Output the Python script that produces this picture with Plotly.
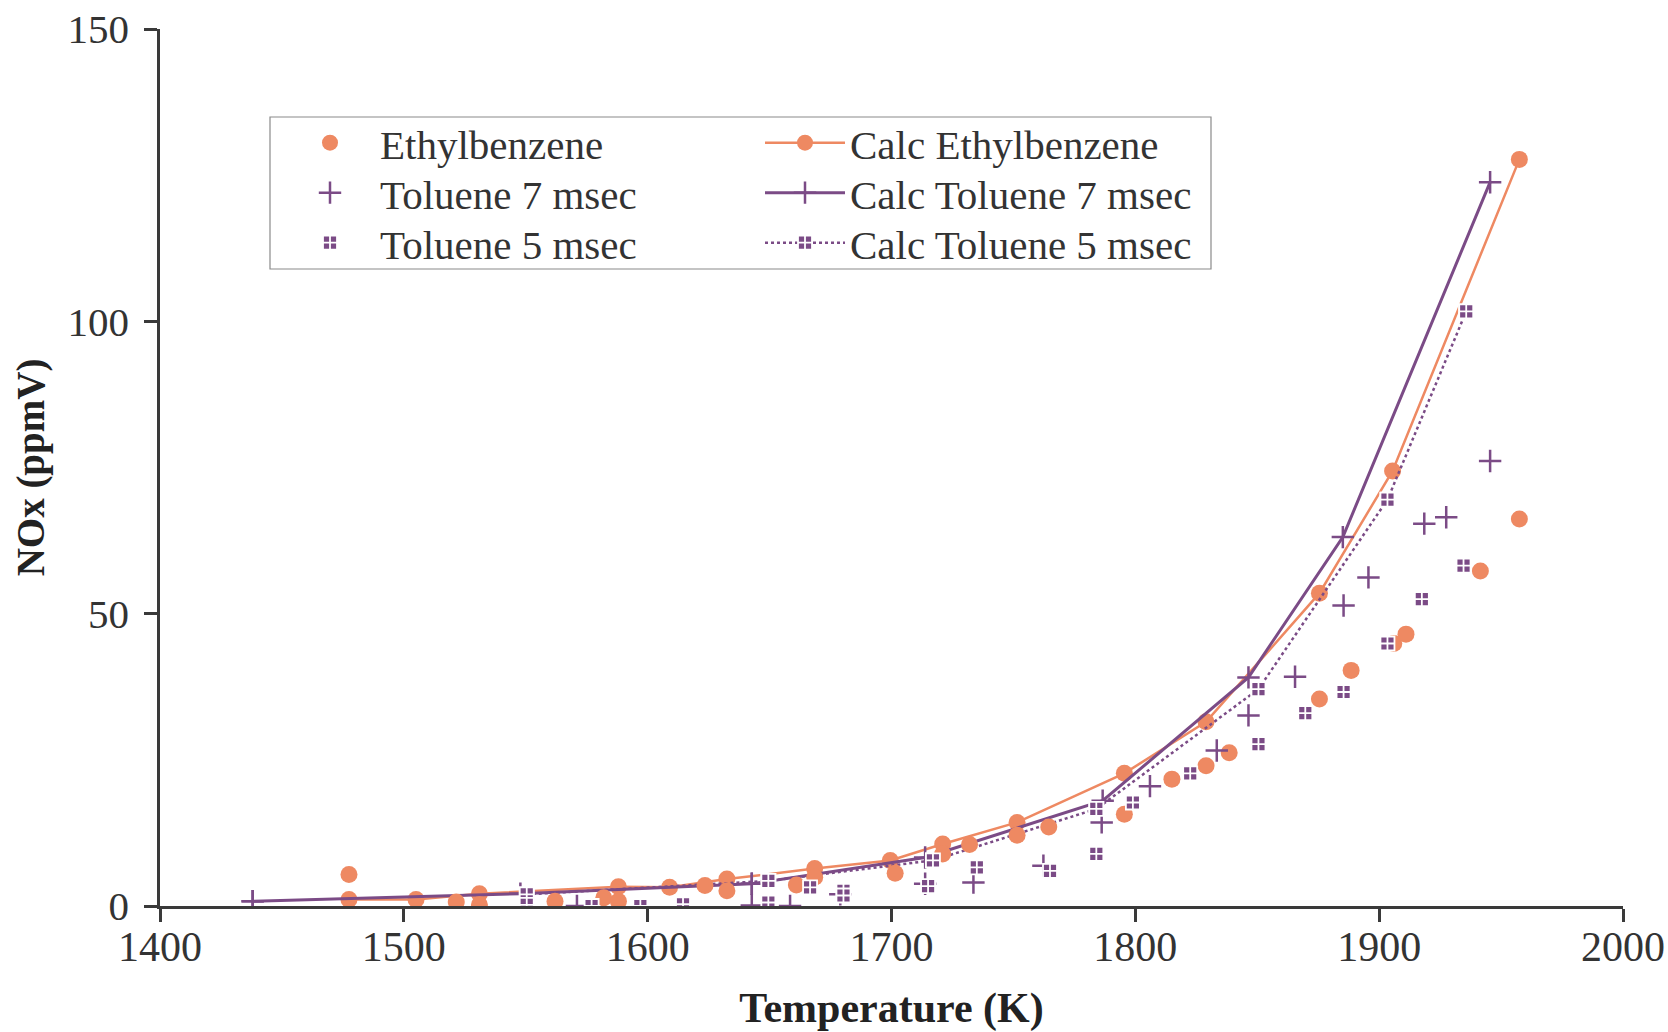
import plotly.graph_objects as go

# ---- data ----
eth_T = [1477.5, 1521.5, 1531, 1562, 1582, 1588, 1623.5, 1632.5, 1661, 1668.5, 1701.5, 1721,
         1732, 1751.5, 1764.5, 1795.5, 1815, 1829, 1838.5, 1875.5, 1888.5, 1906, 1911, 1941.5, 1957.5]
eth_N = [5.4, 0.7, 0.2, 0.8, 1.4, 0.8, 3.5, 2.6, 3.6, 4.9, 5.6, 8.9,
         10.5, 12.1, 13.5, 15.7, 21.7, 24.0, 26.2, 35.4, 40.3, 44.9, 46.5, 57.3, 66.2]

calc_eth_T = [1477.5, 1505, 1531, 1588, 1609, 1632.5, 1668.5, 1699.5, 1721, 1751.5,
              1795.5, 1829, 1875.5, 1905.5, 1957.5]
calc_eth_N = [1.1, 1.1, 2.1, 3.3, 3.2, 4.6, 6.4, 7.8, 10.6, 14.3,
              22.7, 31.5, 53.5, 74.4, 127.7]

tol7_T = [1438, 1571, 1642.7, 1642.7, 1658.4, 1679, 1713.8, 1733.6, 1762.3, 1786.2,
          1806, 1833.4, 1846.4, 1865.5, 1885.4, 1895.6, 1918.5, 1927.5, 1945.5]
tol7_N = [0.8, 0.0, 3.8, 0.1, 0.0, 2.0, 3.8, 4.0, 6.9, 14.3,
          20.5, 26.6, 32.6, 39.2, 51.4, 56.2, 65.4, 66.5, 76.1]

calc_tol7_T = [1438, 1547.8, 1642.7, 1713.8, 1786.6, 1846.4, 1885.1, 1945.5]
calc_tol7_N = [0.8, 2.1, 3.8, 8.3, 18.0, 39.1, 63.1, 123.8]

tol5_T = [1550.4, 1550.4, 1577, 1597, 1614.5, 1649.5, 1649.5, 1666.6, 1680.3, 1680.3,
          1715, 1717, 1735, 1765, 1784, 1784, 1799, 1822.5, 1850.5, 1850.5,
          1869.7, 1885.4, 1903.4, 1903.4, 1917.5, 1934.6, 1935.7]
tol5_N = [2.0, 0.2, 0.0, 0.0, 0.3, 4.3, 0.6, 3.2, 2.6, 1.8,
          3.4, 7.8, 6.6, 6.0, 16.6, 8.9, 17.7, 22.7, 37.1, 27.7,
          33.0, 36.6, 69.5, 44.9, 52.5, 58.2, 101.7]

calc_tol5_T = [1550.4, 1649.5, 1717, 1784, 1850.5, 1903.4, 1935.7]
calc_tol5_N = [2.0, 4.3, 7.8, 16.6, 37.1, 69.5, 101.7]

ORANGE = "#EE8962"
PURPLE = "#7B4B86"
FONT = "Liberation Serif"

fig = go.Figure()

# calculated curves (drawn first, beneath the data) -> right legend column
fig.add_trace(go.Scatter(x=calc_eth_T, y=calc_eth_N, mode="lines+markers", name="Calc Ethylbenzene",
                         line=dict(color=ORANGE, width=2.5),
                         marker=dict(symbol="circle", size=17, color=ORANGE), legend="legend2"))
fig.add_trace(go.Scatter(x=calc_tol7_T, y=calc_tol7_N, mode="lines+markers", name="Calc Toluene 7 msec",
                         line=dict(color=PURPLE, width=3),
                         marker=dict(symbol="cross-thin", size=16, line=dict(color=PURPLE, width=2.5)),
                         legend="legend4"))
fig.add_trace(go.Scatter(x=calc_tol5_T, y=calc_tol5_N, mode="lines+markers", name="Calc Toluene 5 msec",
                         line=dict(color=PURPLE, width=2.5, dash="dot"),
                         marker=dict(symbol="square-cross", size=14, color=PURPLE,
                                     line=dict(color="white", width=1.8)),
                         legend="legend6"))

# measured data -> left legend column
fig.add_trace(go.Scatter(x=eth_T, y=eth_N, mode="markers", name="Ethylbenzene",
                         marker=dict(symbol="circle", size=17, color=ORANGE), legend="legend"))
fig.add_trace(go.Scatter(x=tol7_T, y=tol7_N, mode="markers", name="Toluene 7 msec",
                         marker=dict(symbol="cross-thin", size=16, line=dict(color=PURPLE, width=2.5)),
                         legend="legend3"))
fig.add_trace(go.Scatter(x=tol5_T, y=tol5_N, mode="markers", name="Toluene 5 msec",
                         marker=dict(symbol="square-cross", size=14, color=PURPLE,
                                     line=dict(color="white", width=1.8)),
                         legend="legend5"))

axis_common = dict(showgrid=False, zeroline=False, showline=True, linecolor="#3a3a3a", linewidth=2.5,
                   ticks="outside", ticklen=13, tickwidth=2.5, tickcolor="#3a3a3a")

fig.update_xaxes(range=[1400, 2000], dtick=100, tick0=1400, ticklabelstandoff=-11,
                 tickfont=dict(family=FONT, size=42, color="#333333"),
                 title=dict(text="<b>Temperature (K)</b>", font=dict(family=FONT, size=42, color="#222222"),
                            standoff=25),
                 **axis_common)
fig.update_yaxes(range=[0, 150], dtick=50, tick0=0, ticklabelstandoff=7,
                 tickfont=dict(family=FONT, size=41, color="#333333"),
                 title=dict(text="<b>NOx (ppmV)</b>", font=dict(family=FONT, size=39, color="#222222"),
                            standoff=11),
                 **axis_common)

PW = 1668 - 160 - 45
PH = 1032 - 29 - 126


def px_x(p):
    return (p - 160) / PW


def px_y(p):
    return (1032 - 126 - p) / PH


def leg(xpix, ypix, iw):
    return dict(orientation="v", yanchor="middle", xanchor="left", bgcolor="rgba(0,0,0,0)",
                borderwidth=0, font=dict(family=FONT, size=41, color="#333333"),
                tracegroupgap=0, itemwidth=iw, x=px_x(xpix), y=px_y(ypix))


rows = [143, 193, 243]

fig.update_layout(
    width=1668, height=1032,
    margin=dict(l=160, r=45, t=29, b=126, autoexpand=False),
    plot_bgcolor="white", paper_bgcolor="white",
    font=dict(family=FONT, color="#333333"),
    showlegend=True,
    legend=leg(280, rows[0], 90),
    legend3=leg(280, rows[1], 90),
    legend5=leg(280, rows[2], 90),
    legend2=leg(760, rows[0], 80),
    legend4=leg(760, rows[1], 80),
    legend6=leg(760, rows[2], 80),
    shapes=[dict(type="rect", xref="paper", yref="paper", layer="above",
                 x0=px_x(270), x1=px_x(1211), y0=px_y(269), y1=px_y(117),
                 fillcolor="white", line=dict(color="#8a8a8a", width=1.2))],
)

fig.write_html("out.html", config={"displayModeBar": False},
               post_script="document.body.style.margin='0px';")
